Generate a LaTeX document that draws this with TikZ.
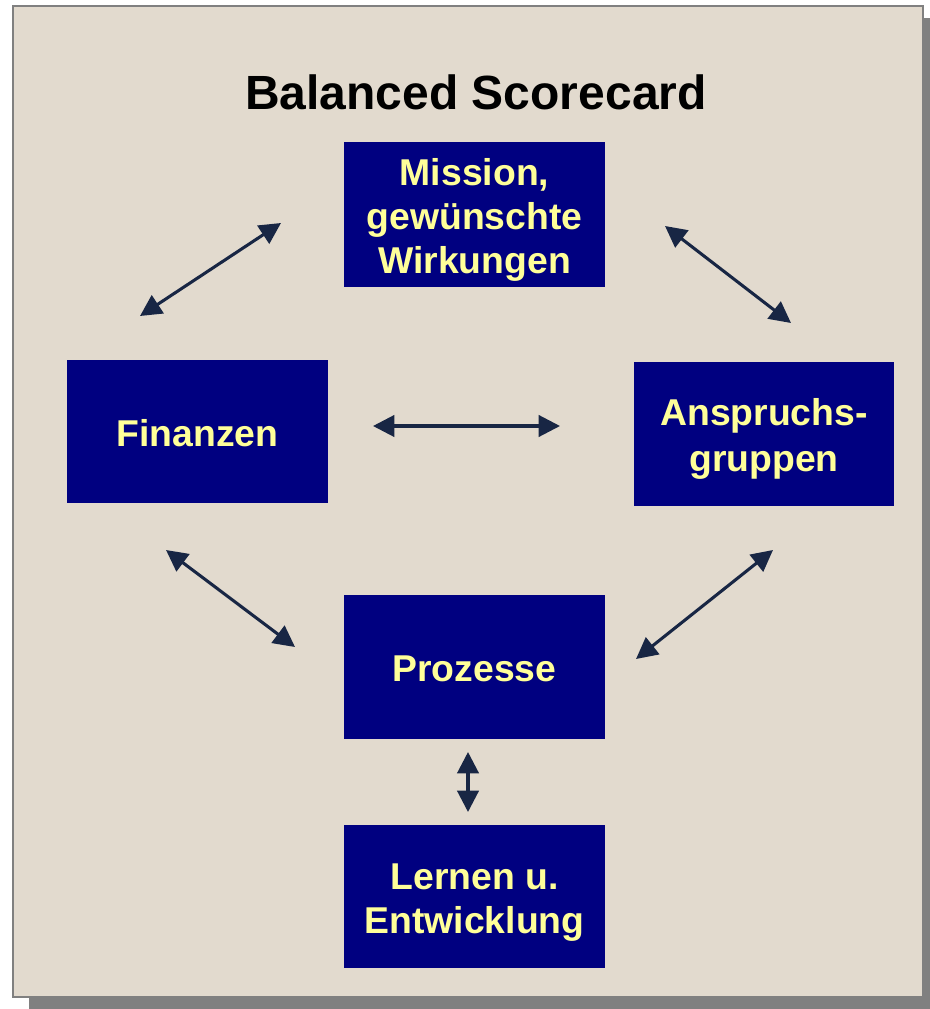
\documentclass[tikz,border=0pt]{standalone}
\usepackage{fontspec}
\setmainfont{Liberation Sans}
\usetikzlibrary{arrows.meta}
\definecolor{paper}{RGB}{226,218,206}
\definecolor{frame}{RGB}{128,128,128}
\definecolor{boxblue}{RGB}{0,0,128}
\definecolor{boxtext}{RGB}{255,255,153}
\definecolor{arrowc}{RGB}{24,38,68}
\tikzset{
  card/.style={fill=boxblue, draw=none, inner sep=0pt},
  cardtext/.style={text=boxtext, align=center, inner sep=0pt,
    font=\bfseries\fontsize{28}{33}\selectfont},
  link/.style={draw=arrowc, line width=2.3pt,
    {Triangle[length=16pt,width=16pt]}-{Triangle[length=16pt,width=16pt]}}
}
\begin{document}
\begin{tikzpicture}[x=0.75pt,y=-0.75pt]
\useasboundingbox (0,0) rectangle (930,1009);
% drop shadow and paper panel
\fill[frame] (29,18) rectangle (930,1009);
\fill[paper] (12,5) rectangle (924,998);
\draw[frame, line width=1.5pt] (13,6) rectangle (923,997);
% title
\node[anchor=base, font=\bfseries\fontsize{36}{40}\selectfont] (title) at (476,110) {Balanced Scorecard};
% perspective boxes
\node[card, minimum width=261*0.75pt, minimum height=145*0.75pt] (mission) at (474.5,214.5) {};
\node[cardtext] (mission-t) at (474.5,220) {Mission,\\gewünschte\\Wirkungen};
\node[card, minimum width=261*0.75pt, minimum height=143*0.75pt] (fin) at (197.5,431.5) {};
\node[cardtext] (fin-t) at (197.5,433) {Finanzen};
\node[card, minimum width=260*0.75pt, minimum height=144*0.75pt] (anspr) at (764,434) {};
\node[cardtext, font=\bfseries\fontsize{28}{35}\selectfont] (anspr-t) at (764,439) {Anspruchs-\\gruppen};
\node[card, minimum width=261*0.75pt, minimum height=144*0.75pt] (proz) at (474.5,667) {};
\node[cardtext] (proz-t) at (474.5,669) {Prozesse};
\node[card, minimum width=261*0.75pt, minimum height=143*0.75pt] (lern) at (474.5,896.5) {};
\node[cardtext] (lern-t) at (474.5,902.5) {Lernen u.\\Entwicklung};
% free arrow ends
\coordinate (a1) at (140,316); \coordinate (a2) at (281,223);
\coordinate (b1) at (665,226); \coordinate (b2) at (791,323);
\coordinate (c1) at (373,426); \coordinate (c2) at (560,426);
\coordinate (d1) at (166,550); \coordinate (d2) at (295,647);
\coordinate (e1) at (636,659); \coordinate (e2) at (773,550);
\coordinate (f1) at (468,752); \coordinate (f2) at (468,812);
% relations between the perspectives
\draw[link] (a1) -- (a2);
\draw[link] (b1) -- (b2);
\draw[link] (c1) -- (c2);
\draw[link] (d1) -- (d2);
\draw[link] (e1) -- (e2);
\draw[link] (f1) -- (f2);
\end{tikzpicture}
\end{document}
